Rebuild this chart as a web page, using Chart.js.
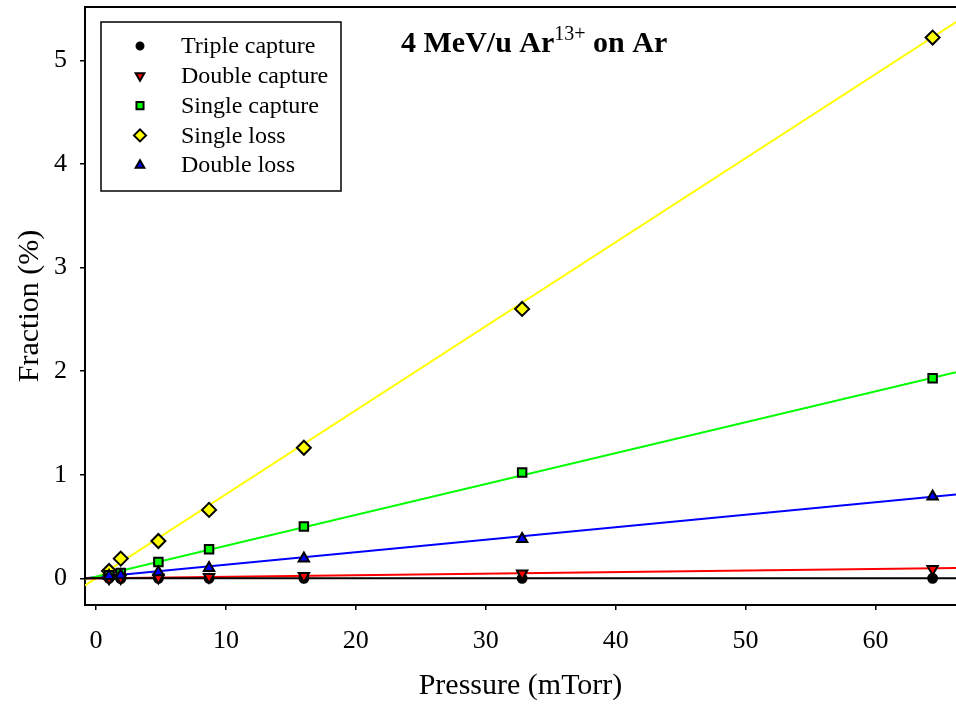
<!DOCTYPE html>
<html>
<head>
<meta charset="utf-8">
<script src="https://cdn.jsdelivr.net/npm/chart.js@4.4.1/dist/chart.umd.min.js"></script>
<style>
  html, body { margin: 0; padding: 0; background: #fff; }
  #wrap { width: 956px; height: 704px; }
</style>
</head>
<body>
<div id="wrap"><canvas id="chart" width="956" height="704"></canvas></div>
<script>
// values (pressure in mTorr, fraction in %)
const pressure      = [1.0, 1.9, 4.8, 8.7, 16.0, 32.8, 64.4];
const tripleCapture = [0.0, -0.003, 0.0, 0.0, 0.0, 0.0, 0.0];
const doubleCapture = [0.0, 0.003, 0.007, 0.013, 0.022, 0.045, 0.09];
const singleCapture = [0.03, 0.05, 0.157, 0.28, 0.50, 1.02, 1.93];
const singleLoss    = [0.07, 0.19, 0.36, 0.66, 1.26, 2.6, 5.22];
const doubleLoss    = [0.022, 0.03, 0.058, 0.10, 0.19, 0.38, 0.79];

// straight line fits, values at both ends of the x range
const fitX          = [-0.85, 66.2];
const tripleFit     = [0.0, 0.0];
const doubleCapFit  = [-0.001, 0.1];
const singleCapFit  = [-0.01, 1.99];
const singleLossFit = [-0.07, 5.37];
const doubleLossFit = [0.0, 0.81];

const xTicks = [0, 10, 20, 30, 40, 50, 60];
const yTicks = [0, 1, 2, 3, 4, 5];

const serif = '"Liberation Serif", "Times New Roman", serif';

const series = [
    { label: 'Triple capture', data: tripleCapture, fit: tripleFit,     color: '#000000', style: 'circle',   rot: 0,   r: 4.5 },
    { label: 'Double capture', data: doubleCapture, fit: doubleCapFit,  color: '#ff0000', style: 'triangle', rot: 180, r: 6 },
    { label: 'Single capture', data: singleCapture, fit: singleCapFit,  color: '#00ff00', style: 'rect',     rot: 0,   r: 6 },
    { label: 'Single loss',    data: singleLoss,    fit: singleLossFit, color: '#ffff00', style: 'rectRot',  rot: 0,   r: 7 },
    { label: 'Double loss',    data: doubleLoss,    fit: doubleLossFit, color: '#0000ff', style: 'triangle', rot: 0,   r: 6 }
];

// points stacking (top first), then the fit lines underneath
const pointOrder = [4, 1, 0, 2, 3];

const buildDatasets = () => {
    const sets = [];
    pointOrder.forEach(i => {
        const s = series[i];
        sets.push({
            label: s.label,
            data: pressure.map((x, k) => ({ x: x, y: s.data[k] })),
            showLine: false,
            pointStyle: s.style,
            rotation: s.rot,
            pointRadius: s.r,
            pointBackgroundColor: s.color,
            pointBorderColor: '#000',
            pointBorderWidth: 2,
            clip: false
        });
    });
    series.forEach(s => {
        sets.push({
            label: s.label + ' fit',
            data: fitX.map((x, k) => ({ x: x, y: s.fit[k] })),
            showLine: true,
            borderColor: s.color,
            borderWidth: 2,
            pointRadius: 0
        });
    });
    return sets;
}

// no extra padding from edge labels, the frame sits where the axes say
const noPad = (scale) => {
    scale.paddingTop = 0;
    scale.paddingBottom = 0;
    scale.paddingLeft = 0;
    scale.paddingRight = 0;
}

const framePlugin = {
    id: 'frame',
    afterDraw: (chart) => {
        const ctx = chart.ctx;
        const a = chart.chartArea;
        ctx.save();
        ctx.strokeStyle = '#000';
        ctx.lineWidth = 2;
        ctx.beginPath();
        ctx.moveTo(a.left - 1, a.top);
        ctx.lineTo(a.right, a.top);
        ctx.stroke();
        ctx.restore();
    }
}

const legendPlugin = {
    id: 'boxLegend',
    afterDraw: (chart) => {
        const ctx = chart.ctx;
        const a = chart.chartArea;
        const bx = a.left + 16, by = a.top + 15, bw = 240, bh = 169;
        ctx.save();
        ctx.fillStyle = '#fff';
        ctx.fillRect(bx, by, bw, bh);
        ctx.strokeStyle = '#000';
        ctx.lineWidth = 1.5;
        ctx.strokeRect(bx, by, bw, bh);
        ctx.font = '24px ' + serif;
        ctx.textBaseline = 'middle';
        series.forEach((s, i) => {
            const y = by + 24 + i * 29.8;
            ctx.fillStyle = s.color;
            ctx.strokeStyle = '#000';
            ctx.lineWidth = 2;
            Chart.helpers.drawPoint(ctx, { pointStyle: s.style, rotation: s.rot, radius: s.r - 1, borderWidth: 2 }, bx + 39, y);
            ctx.fillStyle = '#000';
            ctx.fillText(s.label, bx + 80, y + 1);
        });
        ctx.restore();
    }
}

const titlePlugin = {
    id: 'plotTitle',
    afterDraw: (chart) => {
        const ctx = chart.ctx;
        const a = chart.chartArea;
        let x = a.left + 316;
        const y = a.top + 45;
        ctx.save();
        ctx.fillStyle = '#000';
        ctx.textBaseline = 'alphabetic';
        ctx.font = 'bold 30px ' + serif;
        ctx.fillText('4 MeV/u Ar', x, y);
        x += ctx.measureText('4 MeV/u Ar').width;
        ctx.font = '20px ' + serif;
        ctx.fillText('13+', x, y - 12);
        x += ctx.measureText('13+').width;
        ctx.font = 'bold 30px ' + serif;
        ctx.fillText(' on Ar', x, y);
        ctx.restore();
    }
}

const drawChart = () => {
    const ctx = document.getElementById('chart').getContext('2d');
    new Chart(ctx, {
        type: 'scatter',
        data: { datasets: buildDatasets() },
        options: {
            responsive: false,
            animation: false,
            layout: { autoPadding: false, padding: { top: 7, left: 0, right: 0, bottom: 0 } },
            plugins: {
                legend: { display: false },
                tooltip: { enabled: false }
            },
            scales: {
                x: {
                    type: 'linear',
                    min: fitX[0],
                    max: fitX[1],
                    afterBuildTicks: axis => { axis.ticks = xTicks.map(v => ({ value: v })) },
                    afterFit: scale => { scale.height = 99; noPad(scale) },
                    grid: { drawOnChartArea: false, drawTicks: true, tickLength: 5, color: '#000', lineWidth: 1.5 },
                    border: { display: true, color: '#000', width: 2 },
                    ticks: { color: '#000', font: { family: serif, size: 26 }, padding: 16, maxRotation: 0 },
                    title: { display: true, text: 'Pressure (mTorr)', color: '#000', font: { family: serif, size: 30 }, padding: { top: 0, bottom: 0 } }
                },
                y: {
                    type: 'linear',
                    min: -0.258,
                    max: 5.515,
                    afterBuildTicks: axis => { axis.ticks = yTicks.map(v => ({ value: v })) },
                    afterFit: scale => { scale.width = 85; noPad(scale) },
                    grid: { drawOnChartArea: false, drawTicks: true, tickLength: 5, color: '#000', lineWidth: 1.5 },
                    border: { display: true, color: '#000', width: 2 },
                    ticks: { color: '#000', font: { family: serif, size: 26 }, padding: 13 },
                    title: { display: true, text: 'Fraction (%)', color: '#000', font: { family: serif, size: 30 }, padding: { top: 12, bottom: 0 } }
                }
            }
        },
        plugins: [framePlugin, legendPlugin, titlePlugin]
    });
}

drawChart();
</script>
</body>
</html>
